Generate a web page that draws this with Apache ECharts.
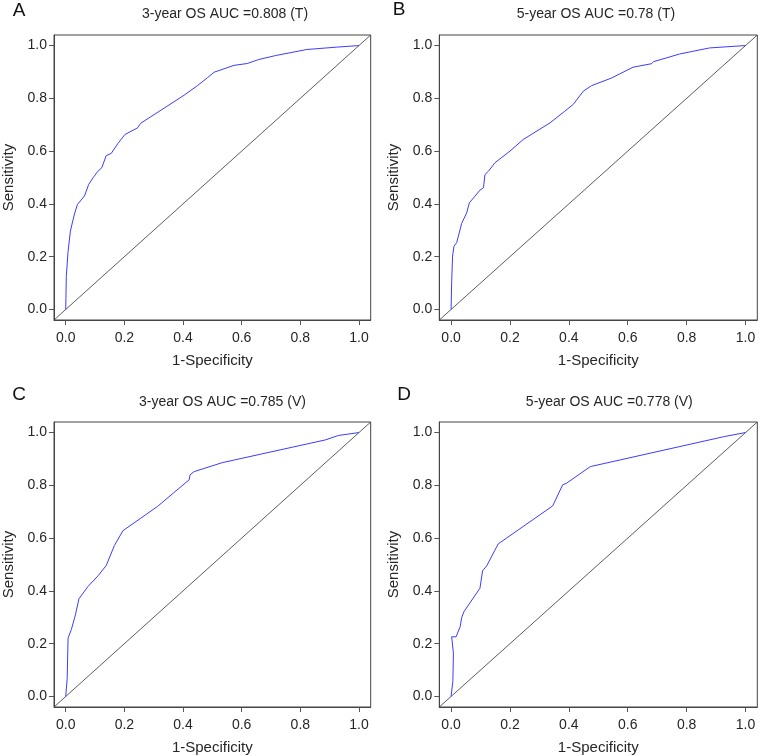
<!DOCTYPE html>
<html>
<head>
<meta charset="utf-8">
<script src="https://cdn.jsdelivr.net/npm/echarts@6/dist/echarts.min.js"></script>
<style>
  html, body { margin: 0; padding: 0; background: #fff; }
  #chart { width: 760px; height: 756px; }
</style>
</head>
<body>
<div id="chart"></div>
<script>
// ROC 曲线数据
const fprA = [0, 0.002, 0.008, 0.016, 0.025, 0.031, 0.04, 0.064, 0.078, 0.093, 0.11, 0.123, 0.138, 0.155, 0.178, 0.202, 0.245, 0.255, 0.404, 0.449, 0.483, 0.506, 0.574, 0.619, 0.658, 0.715, 0.72, 0.822, 0.924, 1];
const tprA = [0, 0.126, 0.22, 0.297, 0.34, 0.366, 0.398, 0.43, 0.473, 0.499, 0.524, 0.537, 0.583, 0.591, 0.629, 0.663, 0.688, 0.705, 0.812, 0.848, 0.878, 0.899, 0.925, 0.932, 0.947, 0.962, 0.968, 0.985, 0.994, 1];

const fprB = [0, 0.002, 0.005, 0.01, 0.019, 0.036, 0.053, 0.062, 0.081, 0.098, 0.11, 0.115, 0.127, 0.149, 0.2, 0.245, 0.336, 0.386, 0.415, 0.449, 0.477, 0.545, 0.618, 0.68, 0.688, 0.776, 0.878, 1];
const tprB = [0, 0.101, 0.202, 0.24, 0.253, 0.326, 0.366, 0.404, 0.429, 0.452, 0.461, 0.511, 0.524, 0.556, 0.6, 0.644, 0.707, 0.751, 0.777, 0.827, 0.848, 0.877, 0.918, 0.931, 0.939, 0.968, 0.991, 1];

const fprC = [0, 0.005, 0.008, 0.019, 0.033, 0.045, 0.076, 0.11, 0.138, 0.166, 0.195, 0.313, 0.421, 0.424, 0.438, 0.534, 0.885, 0.93, 1];
const tprC = [0, 0.069, 0.221, 0.253, 0.309, 0.37, 0.417, 0.457, 0.496, 0.572, 0.628, 0.72, 0.821, 0.84, 0.852, 0.886, 0.972, 0.989, 1];

const fprD = [0, 0.006, 0.008, 0.002, 0.002, 0.017, 0.031, 0.036, 0.044, 0.098, 0.107, 0.121, 0.16, 0.345, 0.379, 0.392, 0.473, 0.929, 1];
const tprD = [0, 0.057, 0.164, 0.17, 0.226, 0.226, 0.265, 0.299, 0.322, 0.41, 0.476, 0.495, 0.578, 0.722, 0.802, 0.808, 0.871, 0.985, 1];

// 参考线 y = x
const diagX = [-0.04, 1.04];

const tickValues = [0, 0.2, 0.4, 0.6, 0.8, 1.0];
const panelLetters = ['A', 'B', 'C', 'D'];
const panelTitles = [
    '3-year OS AUC =0.808 (T)',
    '5-year OS AUC =0.78 (T)',
    '3-year OS AUC =0.785 (V)',
    '5-year OS AUC =0.778 (V)'
];
const xName = '1-Specificity';
const yName = 'Sensitivity';

const FONT = "'Liberation Sans', Arial, Helvetica, sans-serif";
const TEXT_COLOR = '#262626';

// 每个子图的位置
const grids = [
    { left: 52.7, top: 35, width: 318, height: 285 },
    { left: 439.3, top: 35, width: 318, height: 285 },
    { left: 52.7, top: 422, width: 318, height: 285.3 },
    { left: 439.3, top: 422, width: 318, height: 285.3 }
];
const letterPos = [[19, 11], [399, 10], [19, 394.7], [404, 394.7]];
const titlePos = [[225, 14], [596, 14], [222.5, 402], [609.3, 402]];

const rocData = [
    fprA.map((v, i) => [v, tprA[i]]),
    fprB.map((v, i) => [v, tprB[i]]),
    fprC.map((v, i) => [v, tprC[i]]),
    fprD.map((v, i) => [v, tprD[i]])
];

function makeAxis(idx, isX) {
    return {
        type: 'value',
        gridIndex: idx,
        position: isX ? 'bottom' : 'left',
        min: -0.04,
        max: 1.04,
        name: isX ? xName : yName,
        nameLocation: 'middle',
        nameGap: isX ? 33 : 38,
        nameTextStyle: { fontFamily: FONT, fontSize: 15, color: TEXT_COLOR },
        axisLine: { show: true, onZero: false, lineStyle: { color: '#444', width: 1 } },
        axisTick: {
            show: true,
            inside: false,
            length: 5,
            customValues: tickValues,
            lineStyle: { color: '#555', width: 1 }
        },
        axisLabel: {
            customValues: tickValues,
            formatter: v => v.toFixed(1),
            fontFamily: FONT,
            fontSize: 14,
            color: TEXT_COLOR,
            margin: isX ? 11 : 7
        },
        splitLine: { show: false }
    };
}

function initRocCharts() {
    const chartDom = document.getElementById('chart');
    const myChart = echarts.init(chartDom, null, { renderer: 'canvas' });

    const series = [];
    rocData.forEach((data, i) => {
        series.push({
            type: 'line',
            xAxisIndex: i,
            yAxisIndex: i,
            data: diagX.map(v => [v, v]),
            symbol: 'none',
            silent: true,
            lineStyle: { color: '#333', width: 0.8 },
            z: 2
        });
        series.push({
            type: 'line',
            xAxisIndex: i,
            yAxisIndex: i,
            data: data,
            symbol: 'none',
            lineStyle: { color: '#3c3cff', width: 1 },
            z: 3
        });
    });

    const graphic = [];
    panelLetters.forEach((t, i) => {
        graphic.push({
            type: 'text',
            x: letterPos[i][0],
            y: letterPos[i][1],
            style: {
                text: t, fill: '#111', font: '19px ' + FONT,
                textAlign: 'center', textVerticalAlign: 'middle'
            }
        });
    });
    panelTitles.forEach((t, i) => {
        graphic.push({
            type: 'text',
            x: titlePos[i][0],
            y: titlePos[i][1],
            style: {
                text: t, fill: TEXT_COLOR, font: '14px ' + FONT,
                textAlign: 'center', textVerticalAlign: 'middle'
            }
        });
    });

    const option = {
        backgroundColor: '#fff',
        animation: false,
        grid: grids.map(g => Object.assign({
            show: true,
            borderColor: '#444',
            borderWidth: 1,
            backgroundColor: 'transparent'
        }, g)),
        xAxis: grids.map((g, i) => makeAxis(i, true)),
        yAxis: grids.map((g, i) => makeAxis(i, false)),
        series: series,
        graphic: graphic
    };
    myChart.setOption(option);
    window.addEventListener('resize', () => myChart.resize());
}

if (document.readyState === 'loading') {
    document.addEventListener('DOMContentLoaded', initRocCharts);
} else {
    initRocCharts();
}
</script>
</body>
</html>
